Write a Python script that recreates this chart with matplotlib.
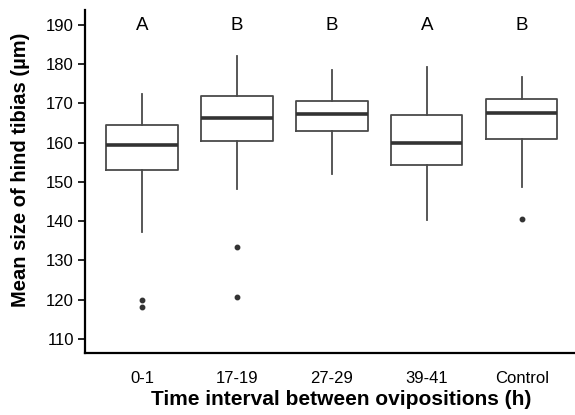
import matplotlib.pyplot as plt

plt.rcParams["font.family"] = ["Liberation Sans", "DejaVu Sans"]

# values
groups = ["0-1", "17-19", "27-29", "39-41", "Control"]
whislo = [137.3, 148.1, 152.1, 140.2, 148.7]
q1 = [153.1, 160.4, 163.1, 154.3, 161.0]
med = [159.3, 166.3, 167.4, 159.9, 167.5]
q3 = [164.4, 172.0, 170.6, 167.0, 171.1]
whishi = [172.3, 182.1, 178.5, 179.4, 176.8]
outliers = [[119.9, 118.1], [133.5, 120.8], [], [], [140.6]]
letters = ["A", "B", "B", "A", "B"]

stats = []
for i in range(len(groups)):
    stats.append(dict(label=groups[i], whislo=whislo[i], q1=q1[i], med=med[i],
                      q3=q3[i], whishi=whishi[i], fliers=outliers[i]))

fig = plt.figure(figsize=(5.75, 4.15), dpi=100)
ax = fig.add_axes([0.148, 0.149, 0.852, 0.827])

box_col = "#4a4a4a"
ax.bxp(stats, positions=range(1, 6), widths=0.75, showcaps=False,
       boxprops=dict(color=box_col, linewidth=1.3),
       whiskerprops=dict(color=box_col, linewidth=1.3),
       medianprops=dict(color="#333333", linewidth=2.6),
       flierprops=dict(marker="o", markersize=3.2, markerfacecolor="#333333",
                       markeredgecolor="#333333"))

for i, l in enumerate(letters):
    ax.text(i + 1, 189.8, l, ha="center", va="center", fontsize=13.5)

ax.set_xlim(0.4, 5.56)
ax.set_ylim(106.4, 193.8)
ax.set_yticks(range(110, 191, 10))
ax.spines["top"].set_visible(False)
ax.spines["right"].set_visible(False)
ax.spines["left"].set_linewidth(1.6)
ax.spines["bottom"].set_linewidth(1.6)
ax.tick_params(axis="x", length=0, labelsize=12, pad=12.5, colors="black")
ax.tick_params(axis="y", length=5, width=1.2, labelsize=12, pad=3)

ax.set_xlabel("Time interval between ovipositions (h)", fontsize=15,
              fontweight="bold")
ax.set_ylabel("Mean size of hind tibias (µm)", fontsize=14.5,
              fontweight="bold")
ax.xaxis.set_label_coords(0.522, -0.108)
ax.yaxis.set_label_coords(-0.112, 0.535)

fig.savefig("out.png", dpi=100)
